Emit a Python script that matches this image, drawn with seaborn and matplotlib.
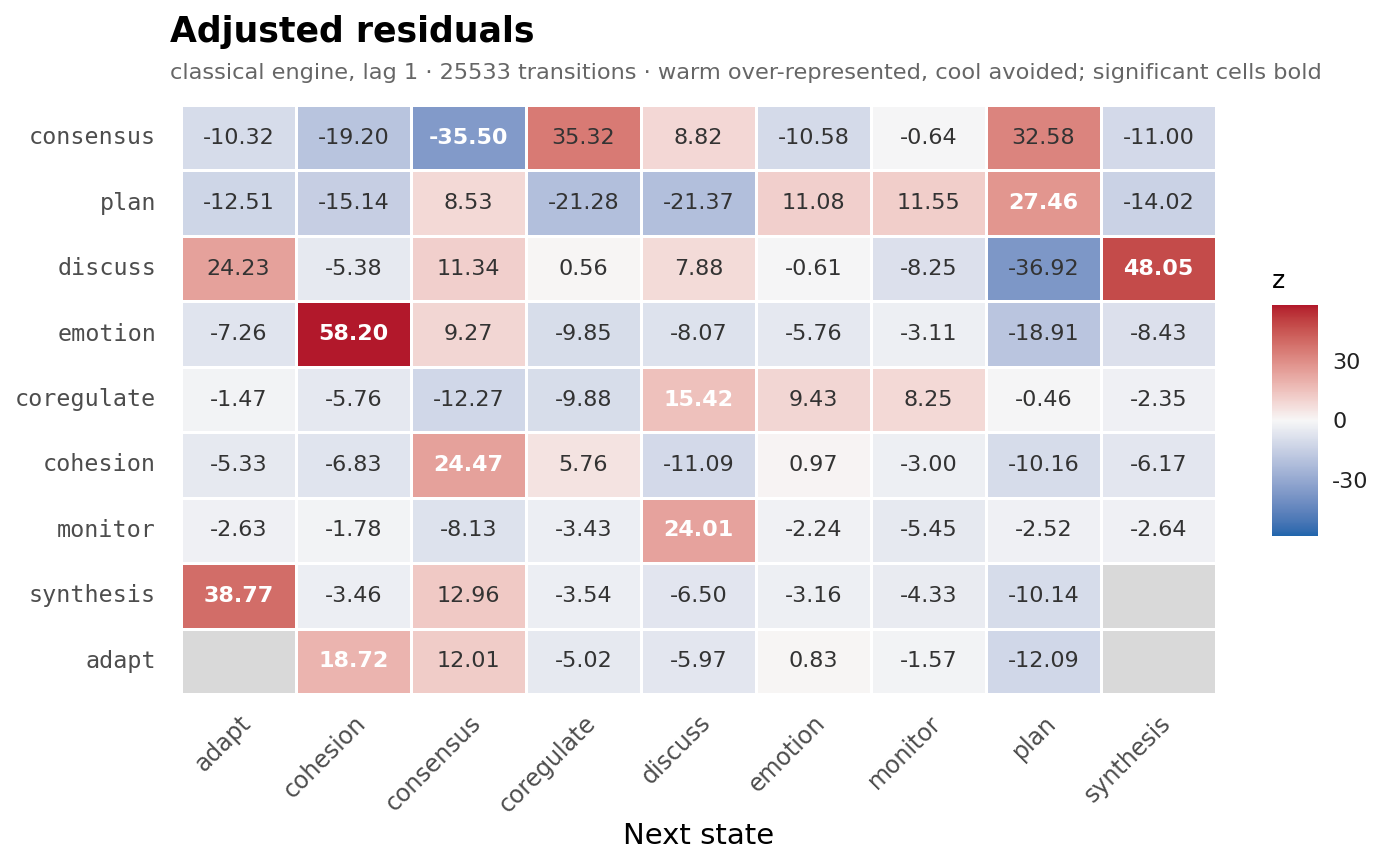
import numpy as np
import pandas as pd
import matplotlib
matplotlib.use("Agg")
import matplotlib.pyplot as plt
import seaborn as sns
from matplotlib.colors import ListedColormap

# data
from_states = ["consensus", "plan", "discuss", "emotion", "coregulate",
               "cohesion", "monitor", "synthesis", "adapt"]
to_states = ["adapt", "cohesion", "consensus", "coregulate", "discuss",
             "emotion", "monitor", "plan", "synthesis"]

z_consensus = [-10.32, -19.20, -35.50, 35.32, 8.82, -10.58, -0.64, 32.58, -11.00]
z_plan = [-12.51, -15.14, 8.53, -21.28, -21.37, 11.08, 11.55, 27.46, -14.02]
z_discuss = [24.23, -5.38, 11.34, 0.56, 7.88, -0.61, -8.25, -36.92, 48.05]
z_emotion = [-7.26, 58.20, 9.27, -9.85, -8.07, -5.76, -3.11, -18.91, -8.43]
z_coregulate = [-1.47, -5.76, -12.27, -9.88, 15.42, 9.43, 8.25, -0.46, -2.35]
z_cohesion = [-5.33, -6.83, 24.47, 5.76, -11.09, 0.97, -3.00, -10.16, -6.17]
z_monitor = [-2.63, -1.78, -8.13, -3.43, 24.01, -2.24, -5.45, -2.52, -2.64]
z_synthesis = [38.77, -3.46, 12.96, -3.54, -6.50, -3.16, -4.33, -10.14, np.nan]
z_adapt = [np.nan, 18.72, 12.01, -5.02, -5.97, 0.83, -1.57, -12.09, np.nan]

# significant cells (from, to) shown in bold white
significant = [("consensus", "consensus"), ("plan", "plan"), ("discuss", "synthesis"),
               ("emotion", "cohesion"), ("coregulate", "discuss"), ("cohesion", "consensus"),
               ("monitor", "discuss"), ("synthesis", "adapt"), ("adapt", "cohesion")]

z = pd.DataFrame([z_consensus, z_plan, z_discuss, z_emotion, z_coregulate,
                  z_cohesion, z_monitor, z_synthesis, z_adapt],
                 index=from_states, columns=to_states)


# ---------------
# diverging palette interpolated in Lab (like gradient2)
# ---------------
def to_lab(hexcol):
    rgb = np.array([int(hexcol[i:i + 2], 16) for i in (1, 3, 5)]) / 255
    lin = np.where(rgb <= 0.04045, rgb / 12.92, ((rgb + 0.055) / 1.055) ** 2.4)
    M = np.array([[0.4124, 0.3576, 0.1805], [0.2126, 0.7152, 0.0722], [0.0193, 0.1192, 0.9505]])
    xyz = M @ lin / np.array([0.95047, 1.0, 1.08883])
    f = np.where(xyz > (6 / 29) ** 3, np.cbrt(xyz), xyz / (3 * (6 / 29) ** 2) + 4 / 29)
    return np.array([116 * f[1] - 16, 500 * (f[0] - f[1]), 200 * (f[1] - f[2])])


def from_lab(lab):
    fy = (lab[0] + 16) / 116
    f = np.array([fy + lab[1] / 500, fy, fy - lab[2] / 200])
    xyz = np.where(f > 6 / 29, f ** 3, 3 * (6 / 29) ** 2 * (f - 4 / 29)) * np.array([0.95047, 1.0, 1.08883])
    Minv = np.array([[3.2406, -1.5372, -0.4986], [-0.9689, 1.8758, 0.0415], [0.0557, -0.2040, 1.0570]])
    lin = np.clip(Minv @ xyz, 0, 1)
    return np.where(lin <= 0.0031308, 12.92 * lin, 1.055 * lin ** (1 / 2.4) - 0.055)


low, mid, high = to_lab("#2166AC"), to_lab("#F7F7F7"), to_lab("#B2182B")
cols = []
for t in np.linspace(-1, 1, 256):
    if t < 0:
        cols.append(from_lab(mid + (low - mid) * (-t)))
    else:
        cols.append(from_lab(mid + (high - mid) * t))
cmap = ListedColormap(np.clip(cols, 0, 1))

zmax = np.nanmax(np.abs(z.values))

# ---------------
# plot
# ---------------
sns.set_theme(style="white")
plt.rcParams['font.family'] = ['DejaVu Sans']
plt.rcParams['axes.unicode_minus'] = False

fig = plt.figure(figsize=(14, 8.66), dpi=100)
ax = fig.add_axes([0.1293, 0.1986, 0.7393, 0.6801])
cax = fig.add_axes([0.9086, 0.381, 0.033, 0.267])

sns.heatmap(z, ax=ax, cmap=cmap, vmin=-zmax, vmax=zmax, linewidths=1.0, linecolor="white",
            cbar_ax=cax, square=False)
# missing cells in grey
missing = z.isna().astype(float)
sns.heatmap(missing, ax=ax, mask=~z.isna(), cmap=ListedColormap(["#D9D9D9"]),
            linewidths=1.0, linecolor="white", cbar=False)

for i, fr in enumerate(from_states):
    for j, to in enumerate(to_states):
        v = z.loc[fr, to]
        if np.isnan(v):
            continue
        if (fr, to) in significant:
            ax.text(j + 0.5, i + 0.5, f"{v:.2f}", ha="center", va="center",
                    fontsize=16, fontweight="bold", color="white")
        else:
            ax.text(j + 0.5, i + 0.5, f"{v:.2f}", ha="center", va="center",
                    fontsize=16, color="#333333")

ax.set_xlabel("Next state", fontsize=21, color="black", labelpad=4)
ax.set_ylabel("")
ax.tick_params(axis="both", length=0)
ax.tick_params(axis="y", pad=18)
ax.tick_params(axis="x", pad=12)
ax.set_yticklabels(from_states, rotation=0, family="DejaVu Sans Mono", fontsize=16.8, color="#4D4D4D")
ax.set_xticklabels(to_states, rotation=45, ha="right", va="top", rotation_mode="anchor",
                   fontsize=17, color="#4D4D4D")

# colorbar
cbar = ax.collections[0].colorbar
cbar.set_ticks([-30, 0, 30])
cbar.outline.set_visible(False)
cax.tick_params(direction="in", color="white", length=8, width=1,
                left=True, right=True, labelsize=16, labelcolor="#222222", pad=10)
cax.set_title("z", loc="left", fontsize=18, pad=12, color="black")

fig.text(0.1214, 0.9515, "Adjusted residuals", fontsize=25, fontweight="bold",
         color="black", va="baseline")
fig.text(0.1214, 0.9088, "classical engine, lag 1 \u00b7 25533 transitions \u00b7 warm over-represented, "
         "cool avoided; significant cells bold", fontsize=16.2, color="#666666", va="baseline")

fig.savefig("out.png", dpi=100)
